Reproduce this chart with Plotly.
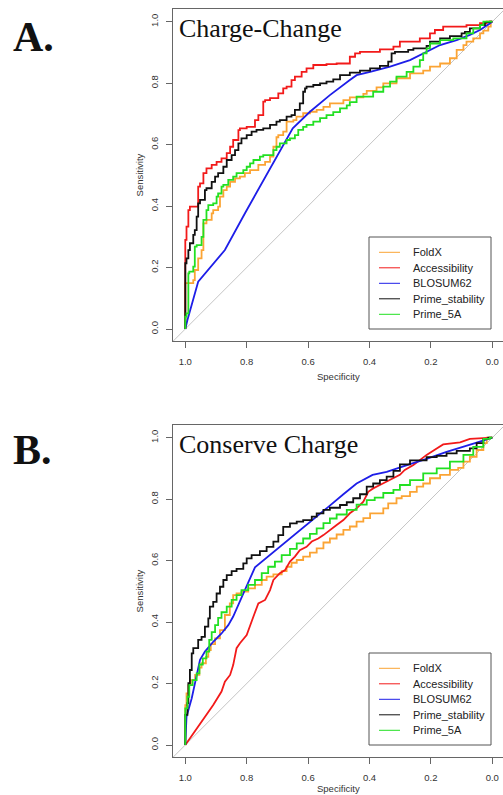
import plotly.graph_objects as go

# ---------------- data (specificity, sensitivity) ----------------
series_names = ["FoldX", "Accessibility", "BLOSUM62", "Prime_stability", "Prime_5A"]
panel_titles = ["Charge-Change", "Conserve Charge"]
panel_labels = ["A.", "B."]
tick_vals = [0.0, 0.2, 0.4, 0.6, 0.8, 1.0]
tick_text = ["0.0", "0.2", "0.4", "0.6", "0.8", "1.0"]
diag_spec = [1.05, -0.05]
diag_sens = [-0.05, 1.05]

# ---- Panel A: Charge-Change ----
A_foldx_spec = [1.0, 1.0, 0.974, 0.969, 0.958, 0.947, 0.941, 0.931, 0.914, 0.909, 0.893, 0.887, 0.876, 0.865, 0.854,
                0.838, 0.822, 0.806, 0.789, 0.762, 0.740, 0.724, 0.713, 0.703, 0.697, 0.681, 0.670, 0.648, 0.638,
                0.616, 0.594, 0.572, 0.550, 0.529, 0.507, 0.485, 0.464, 0.420, 0.409, 0.377, 0.355, 0.312, 0.268,
                0.225, 0.203, 0.170, 0.138, 0.116, 0.094, 0.084, 0.062, 0.040, 0.029, 0.013, 0.005, 0.0]
A_foldx_sens = [0.0, 0.143, 0.149, 0.159, 0.192, 0.230, 0.257, 0.344, 0.355, 0.376, 0.387, 0.398, 0.431, 0.452, 0.463,
                0.479, 0.490, 0.496, 0.507, 0.517, 0.534, 0.544, 0.561, 0.593, 0.624, 0.631, 0.642, 0.675, 0.680,
                0.691, 0.702, 0.707, 0.713, 0.723, 0.734, 0.734, 0.745, 0.754, 0.765, 0.775, 0.786, 0.799, 0.816,
                0.832, 0.841, 0.854, 0.864, 0.881, 0.908, 0.924, 0.935, 0.946, 0.962, 0.971, 0.984, 1.0]

A_access_spec = [1.0, 1.0, 0.996, 0.990, 0.985, 0.974, 0.958, 0.952, 0.941, 0.931, 0.914, 0.898, 0.882, 0.865, 0.854,
                 0.844, 0.827, 0.822, 0.800, 0.773, 0.762, 0.746, 0.740, 0.724, 0.697, 0.681, 0.670, 0.654, 0.643,
                 0.621, 0.605, 0.583, 0.540, 0.507, 0.464, 0.447, 0.431, 0.366, 0.322, 0.301, 0.236, 0.203, 0.187,
                 0.160, 0.084, 0.040, 0.018, 0.0]
A_access_sens = [0.0, 0.262, 0.290, 0.333, 0.387, 0.398, 0.398, 0.463, 0.474, 0.507, 0.523, 0.534, 0.544, 0.555, 0.572,
                 0.593, 0.615, 0.647, 0.653, 0.658, 0.680, 0.696, 0.740, 0.745, 0.751, 0.767, 0.783, 0.789, 0.810,
                 0.821, 0.837, 0.848, 0.859, 0.862, 0.864, 0.886, 0.897, 0.902, 0.910, 0.919, 0.935, 0.946, 0.962,
                 0.973, 0.984, 0.989, 0.995, 1.0]

A_blosum_spec = [1.0, 0.993, 0.958, 0.871, 0.806, 0.735, 0.650, 0.594, 0.529, 0.464, 0.442, 0.398, 0.333, 0.268,
                 0.225, 0.170, 0.116, 0.073, 0.040, 0.018, 0.0]
A_blosum_sens = [0.0, 0.029, 0.154, 0.257, 0.376, 0.501, 0.653, 0.707, 0.761, 0.810, 0.826, 0.837, 0.854, 0.875,
                 0.897, 0.924, 0.940, 0.957, 0.973, 0.989, 1.0]

A_stab_spec = [1.0, 1.0, 0.996, 0.990, 0.985, 0.974, 0.969, 0.963, 0.958, 0.952, 0.936, 0.931, 0.914, 0.903, 0.893,
               0.876, 0.865, 0.849, 0.838, 0.827, 0.817, 0.800, 0.784, 0.768, 0.746, 0.724, 0.703, 0.692, 0.670,
               0.654, 0.643, 0.627, 0.616, 0.610, 0.605, 0.583, 0.561, 0.540, 0.518, 0.496, 0.464, 0.431, 0.398,
               0.366, 0.339, 0.328, 0.317, 0.274, 0.257, 0.214, 0.203, 0.170, 0.138, 0.100, 0.089, 0.073, 0.040,
               0.024, 0.008, 0.0]
A_stab_sens = [0.0, 0.197, 0.214, 0.230, 0.257, 0.279, 0.306, 0.322, 0.366, 0.409, 0.420, 0.452, 0.458, 0.479, 0.496,
               0.507, 0.528, 0.550, 0.566, 0.582, 0.604, 0.620, 0.631, 0.642, 0.648, 0.653, 0.664, 0.675, 0.680,
               0.691, 0.696, 0.713, 0.734, 0.772, 0.783, 0.789, 0.794, 0.799, 0.805, 0.812, 0.826, 0.834, 0.841,
               0.848, 0.856, 0.870, 0.897, 0.902, 0.908, 0.913, 0.921, 0.935, 0.946, 0.953, 0.962, 0.967, 0.978,
               0.989, 0.999, 1.0]

A_p5a_spec = [1.0, 0.996, 0.990, 0.987, 0.974, 0.969, 0.963, 0.947, 0.941, 0.931, 0.925, 0.909, 0.898, 0.893, 0.882,
              0.876, 0.860, 0.844, 0.833, 0.811, 0.800, 0.789, 0.778, 0.757, 0.746, 0.713, 0.703, 0.692, 0.670, 0.659,
              0.643, 0.632, 0.616, 0.605, 0.583, 0.561, 0.540, 0.518, 0.496, 0.474, 0.464, 0.442, 0.388, 0.355,
              0.333, 0.312, 0.279, 0.257, 0.236, 0.225, 0.214, 0.203, 0.170, 0.127, 0.084, 0.062, 0.040, 0.029,
              0.018, 0.0]
A_p5a_sens = [0.0, 0.040, 0.051, 0.181, 0.187, 0.203, 0.268, 0.273, 0.300, 0.355, 0.387, 0.403, 0.409, 0.431, 0.441,
              0.463, 0.469, 0.485, 0.496, 0.507, 0.517, 0.528, 0.539, 0.550, 0.561, 0.566, 0.582, 0.593, 0.604, 0.615,
              0.620, 0.631, 0.648, 0.658, 0.664, 0.675, 0.686, 0.696, 0.706, 0.718, 0.728, 0.738, 0.756, 0.772,
              0.789, 0.805, 0.821, 0.837, 0.854, 0.875, 0.897, 0.913, 0.929, 0.940, 0.946, 0.962, 0.978, 0.989,
              1.0, 1.0]

# ---- Panel B: Conserve Charge ----
B_foldx_spec = [1.0, 1.0, 0.996, 0.990, 0.982, 0.968, 0.954, 0.947, 0.933, 0.925, 0.917, 0.903, 0.887, 0.871, 0.855,
                0.844, 0.833, 0.817, 0.795, 0.773, 0.751, 0.735, 0.713, 0.686, 0.670, 0.654, 0.637, 0.616, 0.594,
                0.572, 0.550, 0.529, 0.507, 0.485, 0.464, 0.442, 0.420, 0.398, 0.355, 0.339, 0.312, 0.295, 0.268,
                0.246, 0.225, 0.203, 0.170, 0.138, 0.111, 0.094, 0.073, 0.051, 0.029, 0.018, 0.0]
B_foldx_sens = [0.0, 0.103, 0.130, 0.168, 0.195, 0.211, 0.228, 0.252, 0.266, 0.287, 0.309, 0.328, 0.347, 0.374, 0.423,
                0.461, 0.488, 0.493, 0.499, 0.510, 0.521, 0.537, 0.548, 0.555, 0.566, 0.580, 0.593, 0.602, 0.613,
                0.626, 0.640, 0.659, 0.672, 0.685, 0.700, 0.711, 0.727, 0.738, 0.754, 0.770, 0.786, 0.803, 0.810,
                0.824, 0.841, 0.851, 0.868, 0.879, 0.895, 0.902, 0.922, 0.938, 0.960, 0.982, 1.0]

B_access_spec = [1.0, 0.952, 0.909, 0.882, 0.871, 0.854, 0.844, 0.833, 0.822, 0.800, 0.789, 0.778, 0.762, 0.740,
                 0.724, 0.713, 0.692, 0.675, 0.659, 0.643, 0.627, 0.605, 0.588, 0.567, 0.550, 0.529, 0.507, 0.485,
                 0.464, 0.442, 0.420, 0.404, 0.388, 0.366, 0.333, 0.301, 0.285, 0.257, 0.236, 0.214, 0.181, 0.160,
                 0.105, 0.073, 0.0]
B_access_sens = [0.0, 0.070, 0.130, 0.174, 0.206, 0.228, 0.260, 0.315, 0.331, 0.358, 0.390, 0.418, 0.461, 0.472,
                 0.504, 0.537, 0.559, 0.569, 0.597, 0.613, 0.634, 0.645, 0.662, 0.672, 0.683, 0.700, 0.716, 0.732,
                 0.754, 0.770, 0.792, 0.824, 0.835, 0.846, 0.862, 0.879, 0.895, 0.911, 0.927, 0.944, 0.965, 0.978,
                 0.985, 0.996, 1.0]

B_blosum_spec = [1.0, 0.996, 0.979, 0.965, 0.952, 0.936, 0.909, 0.882, 0.860, 0.844, 0.827, 0.806, 0.773, 0.746,
                 0.692, 0.637, 0.583, 0.534, 0.485, 0.442, 0.390, 0.344, 0.268, 0.214, 0.149, 0.094, 0.051, 0.0]
B_blosum_sens = [0.0, 0.092, 0.152, 0.217, 0.277, 0.304, 0.336, 0.363, 0.390, 0.418, 0.458, 0.504, 0.578, 0.600,
                 0.645, 0.689, 0.732, 0.775, 0.816, 0.851, 0.879, 0.889, 0.914, 0.931, 0.954, 0.970, 0.984, 1.0]

B_stab_spec = [1.0, 1.0, 0.993, 0.990, 0.985, 0.979, 0.974, 0.958, 0.947, 0.936, 0.925, 0.920, 0.909, 0.898, 0.887,
               0.876, 0.865, 0.849, 0.833, 0.811, 0.800, 0.784, 0.757, 0.735, 0.713, 0.697, 0.681, 0.659, 0.637,
               0.616, 0.588, 0.572, 0.550, 0.529, 0.496, 0.474, 0.453, 0.431, 0.409, 0.388, 0.366, 0.344, 0.322,
               0.301, 0.268, 0.214, 0.181, 0.149, 0.116, 0.073, 0.051, 0.029, 0.013, 0.0]
B_stab_sens = [0.0, 0.081, 0.098, 0.136, 0.201, 0.244, 0.298, 0.315, 0.342, 0.352, 0.385, 0.412, 0.450, 0.466, 0.493,
               0.515, 0.537, 0.553, 0.566, 0.573, 0.591, 0.607, 0.618, 0.631, 0.645, 0.662, 0.683, 0.710, 0.721,
               0.727, 0.732, 0.743, 0.754, 0.765, 0.772, 0.781, 0.790, 0.803, 0.816, 0.841, 0.851, 0.862, 0.873,
               0.892, 0.913, 0.926, 0.937, 0.941, 0.949, 0.957, 0.965, 0.982, 0.996, 1.0]

B_p5a_spec = [1.0, 1.0, 0.993, 0.987, 0.976, 0.963, 0.954, 0.943, 0.931, 0.922, 0.914, 0.903, 0.893, 0.882, 0.865,
              0.849, 0.833, 0.817, 0.795, 0.773, 0.751, 0.730, 0.708, 0.686, 0.659, 0.637, 0.616, 0.594, 0.572,
              0.550, 0.529, 0.507, 0.474, 0.442, 0.409, 0.383, 0.355, 0.322, 0.301, 0.268, 0.225, 0.181, 0.138,
              0.094, 0.062, 0.029, 0.008, 0.0]
B_p5a_sens = [0.0, 0.085, 0.119, 0.157, 0.195, 0.211, 0.233, 0.262, 0.282, 0.304, 0.342, 0.367, 0.390, 0.414, 0.432,
              0.450, 0.472, 0.488, 0.504, 0.521, 0.537, 0.559, 0.580, 0.597, 0.618, 0.638, 0.656, 0.672, 0.687,
              0.705, 0.722, 0.737, 0.750, 0.765, 0.782, 0.797, 0.805, 0.820, 0.830, 0.846, 0.862, 0.884, 0.900,
              0.922, 0.944, 0.970, 0.996, 1.0]

panel_A = [(A_foldx_spec, A_foldx_sens), (A_access_spec, A_access_sens), (A_blosum_spec, A_blosum_sens),
           (A_stab_spec, A_stab_sens), (A_p5a_spec, A_p5a_sens)]
panel_B = [(B_foldx_spec, B_foldx_sens), (B_access_spec, B_access_sens), (B_blosum_spec, B_blosum_sens),
           (B_stab_spec, B_stab_sens), (B_p5a_spec, B_p5a_sens)]

# ---------------- style ----------------
W, H = 503, 795
colors = ["#FBA434", "#F21A1A", "#1E1EE8", "#111111", "#22E022"]
shapes_A = ["vh", "vh", "linear", "vh", "vh"]
shapes_B = ["vh", "linear", "linear", "vh", "vh"]
serif = "Liberation Serif, Times New Roman, serif"
sans = "Liberation Sans, Arial, sans-serif"
axis_col = "#666666"
txt_col = "#333333"

X_LEFT = 172.7          # plot box left edge (px)
BOX_TOP = [9.4, 425.4]  # plot box top edges (px)
BOX_H = 331.9

def px(x):
    return x / W

def py(y):
    return 1 - y / H

fig = go.Figure()

for p, (panel, lshapes) in enumerate([(panel_A, shapes_A), (panel_B, shapes_B)]):
    xa = "x" if p == 0 else "x2"
    ya = "y" if p == 0 else "y2"
    fig.add_trace(go.Scatter(x=diag_spec, y=diag_sens, mode="lines", xaxis=xa, yaxis=ya,
                             line=dict(color="#C4C4C4", width=1), showlegend=False, hoverinfo="skip"))
    for i, (sx, sy) in enumerate(panel):
        fig.add_trace(go.Scatter(x=sx, y=sy, mode="lines", xaxis=xa, yaxis=ya, name=series_names[i],
                                 line=dict(color=colors[i], width=1.8, shape=lshapes[i]), showlegend=False))

def xaxis_cfg(anchor):
    return dict(domain=[px(X_LEFT), 1.0], range=[1.041, -0.0349], anchor=anchor,
                showline=True, mirror=True, linecolor=axis_col, linewidth=1.2,
                ticks="outside", ticklen=6, tickwidth=1, tickcolor=axis_col,
                tickvals=tick_vals, ticktext=tick_text, ticklabelstandoff=5,
                tickfont=dict(family=sans, size=9.5, color=txt_col),
                showgrid=False, zeroline=False, fixedrange=True)

def yaxis_cfg(anchor, top):
    return dict(domain=[py(top + BOX_H), py(top)], range=[-0.04, 1.04], anchor=anchor,
                showline=True, mirror=False, linecolor=axis_col, linewidth=1.2,
                ticks="outside", ticklen=6, tickwidth=1, tickcolor=axis_col,
                tickvals=tick_vals, ticktext=tick_text, tickangle=-90, ticklabelstandoff=4,
                tickfont=dict(family=sans, size=9.5, color=txt_col),
                showgrid=False, zeroline=False, fixedrange=True)

fig.update_layout(
    width=W, height=H, margin=dict(l=0, r=0, t=0, b=0),
    paper_bgcolor="white", plot_bgcolor="white", showlegend=False,
    xaxis=xaxis_cfg("y"), yaxis=yaxis_cfg("x", BOX_TOP[0]),
    xaxis2=xaxis_cfg("y2"), yaxis2=yaxis_cfg("x2", BOX_TOP[1]),
)

annotations = []
shapes = []
spec_title_y = [376.0, 788.5]
for p in range(2):
    off = 416.0 * p
    annotations.append(dict(xref="paper", yref="paper", x=px(11), y=py(36.7 + off - (p * 2.5)),
                            xanchor="left", yanchor="middle", showarrow=False, text="<b>%s</b>" % panel_labels[p],
                            font=dict(family=serif, size=42, color="#111111")))
    annotations.append(dict(xref="paper", yref="paper", x=px(177), y=py(28.9 + off),
                            xanchor="left", yanchor="middle", showarrow=False, text=panel_titles[p],
                            font=dict(family=serif, size=26, color="#111111")))
    annotations.append(dict(xref="paper", yref="paper", x=px(338.8), y=py(spec_title_y[p]),
                            xanchor="center", yanchor="middle", showarrow=False, text="Specificity",
                            font=dict(family=sans, size=9.5, color=txt_col)))
    annotations.append(dict(xref="paper", yref="paper", x=px(139), y=py(175.4 + off),
                            xanchor="center", yanchor="middle", showarrow=False, text="Sensitivity",
                            textangle=-90, font=dict(family=sans, size=9.5, color=txt_col)))
    shapes.append(dict(type="rect", xref="paper", yref="paper", x0=px(369), x1=px(491),
                       y0=py(329 + off), y1=py(237 + off), line=dict(color="#555555", width=1),
                       fillcolor="white", layer="above"))
    for i, name in enumerate(series_names):
        yy = 252.3 + 15.5 * i + off
        shapes.append(dict(type="line", xref="paper", yref="paper", x0=px(379), x1=px(400),
                           y0=py(yy), y1=py(yy), line=dict(color=colors[i], width=1), layer="above"))
        annotations.append(dict(xref="paper", yref="paper", x=px(410.5), y=py(yy),
                                xanchor="left", yanchor="middle", showarrow=False, text=name,
                                font=dict(family=sans, size=11, color="#222222")))

fig.update_layout(annotations=annotations, shapes=shapes)
fig.write_html("out.html")
